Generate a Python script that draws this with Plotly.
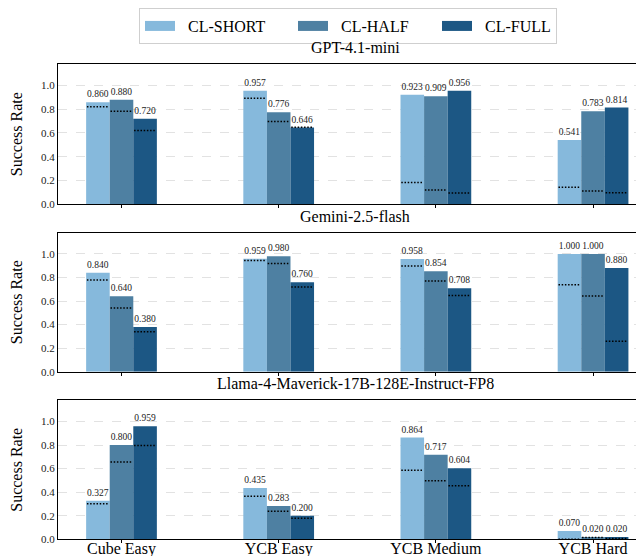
import plotly.graph_objects as go

categories = ["Cube Easy", "YCB Easy", "YCB Medium", "YCB Hard"]
series_names = ["CL-SHORT", "CL-HALF", "CL-FULL"]
panel_titles = ["GPT-4.1-mini", "Gemini-2.5-flash", "Llama-4-Maverick-17B-128E-Instruct-FP8"]

# success rates per panel: [SHORT, HALF, FULL] x categories
gpt_short = [0.860, 0.957, 0.923, 0.541]
gpt_half = [0.880, 0.776, 0.909, 0.783]
gpt_full = [0.720, 0.646, 0.956, 0.814]

gem_short = [0.840, 0.959, 0.958, 1.000]
gem_half = [0.640, 0.980, 0.854, 1.000]
gem_full = [0.380, 0.760, 0.708, 0.880]

lla_short = [0.327, 0.435, 0.864, 0.070]
lla_half = [0.800, 0.283, 0.717, 0.020]
lla_full = [0.959, 0.200, 0.604, 0.020]

# dotted reference levels
gpt_short_ref = [0.822, 0.894, 0.183, 0.142]
gpt_half_ref = [0.783, 0.697, 0.120, 0.111]
gpt_full_ref = [0.622, 0.648, 0.095, 0.097]

gem_short_ref = [0.779, 0.944, 0.897, 0.739]
gem_half_ref = [0.541, 0.919, 0.771, 0.642]
gem_full_ref = [0.339, 0.720, 0.647, 0.258]

lla_short_ref = [0.302, 0.366, 0.587, 0.000]
lla_half_ref = [0.656, 0.237, 0.497, 0.015]
lla_full_ref = [0.796, 0.179, 0.455, 0.006]

panels = [
    ([gpt_short, gpt_half, gpt_full], [gpt_short_ref, gpt_half_ref, gpt_full_ref]),
    ([gem_short, gem_half, gem_full], [gem_short_ref, gem_half_ref, gem_full_ref]),
    ([lla_short, lla_half, lla_full], [lla_short_ref, lla_half_ref, lla_full_ref]),
]

colors = ["#86b9dc", "#4e80a2", "#1c5784"]
FONT = "Liberation Serif"
W, H = 644, 556
bar_w = 0.15
offsets = [-0.225, -0.075, 0.075]
xpos = list(range(len(categories)))

# panel pixel extents (top, bottom)
panel_px = [(55, 197), (226, 367), (396, 537)]
x_dom = [50 / W, 1.0]

fig = go.Figure()

for p, (vals, refs) in enumerate(panels):
    sfx = "" if p == 0 else str(p + 1)
    for k in range(3):
        fig.add_trace(go.Bar(
            x=xpos, y=vals[k], width=bar_w, offset=offsets[k],
            marker=dict(color=colors[k], line=dict(width=0)),
            text=[f"{v:.3f}" for v in vals[k]], textposition="outside",
            textfont=dict(family=FONT, size=9.5, color="#222"),
            constraintext="none", cliponaxis=False,
            showlegend=False, name=series_names[k],
            xaxis="x" + sfx, yaxis="y" + sfx,
        ))
    xs, ys = [], []
    for k in range(3):
        for j in xpos:
            xs += [j + offsets[k] + 0.005, j + offsets[k] + bar_w - 0.005, None]
            ys += [refs[k][j], refs[k][j], None]
    fig.add_trace(go.Scatter(
        x=xs, y=ys, mode="lines",
        line=dict(color="black", width=1.5, dash="1.5px,1.7px"),
        showlegend=False, hoverinfo="skip",
        xaxis="x" + sfx, yaxis="y" + sfx,
    ))

# legend entries
legend_w = [108, 99, None]
for k in range(3):
    fig.add_trace(go.Scatter(
        x=[None], y=[None], mode="lines", name="\u00a0\u00a0" + series_names[k],
        line=dict(color=colors[k], width=12),
        legendwidth=legend_w[k] if legend_w[k] else None,
        xaxis="x", yaxis="y",
    ))

layout = dict(
    width=W, height=H,
    margin=dict(l=0, r=0, t=0, b=0),
    paper_bgcolor="white", plot_bgcolor="white",
    barmode="overlay",
    font=dict(family=FONT, color="black"),
    legend=dict(
        orientation="h", x=340 / W, xanchor="center", y=1.0 + 2 / H, yanchor="top",
        bordercolor="#cfcfcf", borderwidth=1, bgcolor="white",
        font=dict(family=FONT, size=16, color="black"),
    ),
    annotations=[],
)

for p in range(3):
    sfx = "" if p == 0 else str(p + 1)
    top, bot = panel_px[p]
    ydom = [1 - bot / H, 1 - top / H]
    layout["xaxis" + sfx] = dict(
        domain=x_dom, range=[-0.404, 3.375], anchor="y" + sfx,
        tickvals=xpos, ticktext=categories, showticklabels=(p == 2),
        ticks="outside", ticklen=3, tickcolor="black", tickwidth=1,
        ticklabelstandoff=-8,
        showline=True, linecolor="black", linewidth=1, mirror=True,
        showgrid=False, zeroline=False,
        tickfont=dict(family=FONT, size=16, color="black"),
    )
    layout["yaxis" + sfx] = dict(
        domain=ydom, range=[0, 1.18], anchor="x" + sfx,
        tickvals=[0, 0.2, 0.4, 0.6, 0.8, 1.0], tickformat=".1f",
        showline=True, linecolor="black", linewidth=1,
        showgrid=True, gridcolor="#e2e2e2", griddash="dash", gridwidth=1,
        zeroline=False, ticks="",
        tickfont=dict(family=FONT, size=11, color="#222"),
        title=dict(text="Success Rate", font=dict(family=FONT, size=16, color="black"), standoff=14),
    )
    layout["annotations"].append(dict(
        text=panel_titles[p], xref="paper", yref="paper",
        x=(x_dom[0] + x_dom[1]) / 2, y=1 - top / H + 6 / H,
        xanchor="center", yanchor="bottom", showarrow=False,
        font=dict(family=FONT, size=16, color="black"),
    ))

fig.update_layout(**layout)
fig.write_html("out.html")
